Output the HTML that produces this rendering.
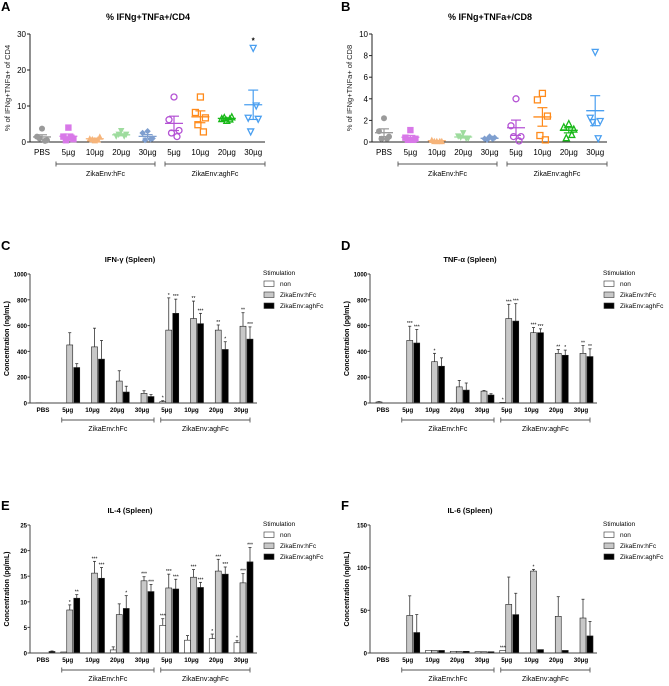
<!DOCTYPE html>
<html><head><meta charset="utf-8">
<style>
html,body{margin:0;padding:0;background:#fff;}
svg{display:block;font-family:"Liberation Sans",Arial,sans-serif;}
</style></head>
<body>
<svg id="fig" width="669" height="686" viewBox="0 0 669 686"></svg>
<script>
// ---- data ----
const cats = ["PBS","5µg","10µg","20µg","30µg","5µg","10µg","20µg","30µg"];
// Panel A: % IFNg+TNFa+/CD4 per mouse
const aPoints = [[3.7,1.5,0.5,1,0.3],[4,1.5,0.8,0.5,1.2],[0.5,1,1.5,0.8,0.7],[3,1.5,2,2,1.5],[3,2.5,1,0.5,0.8],[12.5,6.2,3.2,2.5,1.5],[12.5,8.2,6.7,4.8,2.8],[6,6.5,7,6.8,6.4],[26,6.6,6.3,2.8,10]];
const aTicks = [0,10,20,30];
// Panel B: % IFNg+TNFa+/CD8
const bPoints = [[2.2,1,0.5,0.3,0.3],[1.1,0.4,0.3,0.2,0.2],[0.1,0.2,0.1,0.1,0.1],[0.8,0.5,0.3,0.4,0.3],[0.5,0.3,0.4,0.2,0.3],[4,1.5,0.5,0.5,0.1],[4.5,3.9,2.4,0.6,0.2],[1.7,1.4,1.2,0.4,0.7],[8.3,2.2,1.9,1.8,0.3]];
const bTicks = [0,2,4,6,8,10];
// Panel C: IFN-g
const cNon = [2,0,0,0,0,10,0,0,0];
const cHfc = [0,450,435,170,75,565,655,565,595];
const cAgh = [0,275,340,85,50,695,615,415,495];
const cNonErr = [0,0,0,0,0,8,0,0,0];
const cHfcErr = [0,95,145,80,20,250,135,40,105];
const cAghErr = [0,30,145,45,15,110,80,60,95];
const cHfcStar = ["","","","","","*","**","**","**"];
const cAghStar = ["","","","","","***","***","*","***"];
const cTicks = [0,200,400,600,800,1000];
// Panel D: TNF-a
const dNon = [8,0,0,0,0,5,0,0,0];
const dHfc = [0,485,320,125,92,655,545,385,385];
const dAgh = [0,465,285,100,62,635,545,370,360];
const dNonErr = [3,0,0,0,0,0,0,0,0];
const dHfcErr = [0,110,65,50,5,110,40,30,60];
const dAghErr = [0,105,65,55,10,135,30,40,60];
const dHfcStar = ["","***","*","","","***","***","**","**"];
const dAghStar = ["","***","","","","***","***","*","**"];
const dTicks = [0,200,400,600,800,1000];
// Panel E: IL-4
const eNon = [0,0.2,0,0.6,0,5.4,2.5,2.8,2.0];
const eHfc = [0,8.4,15.6,7.5,14.1,12.7,14.8,16.0,13.7];
const eAgh = [0.3,10.7,14.6,8.7,12.0,12.5,12.8,15.4,17.8];
const eNonErr = [0,0,0,0.6,0,1.3,0.9,0.9,0.4];
const eHfcErr = [0,1,2.3,2.1,0.8,2.7,1.5,2.3,1.8];
const eAghErr = [0.1,0.7,2.1,2.5,1.4,1.9,1.0,1.4,2.8];
const eNonStar = ["","","","","","***","","*","*"];
const eHfcStar = ["","*","***","","***","***","***","***","***"];
const eAghStar = ["","**","***","*","***","***","***","***","***"];
const eTicks = [0,5,10,15,20,25];
// Panel F: IL-6
const fNon = [0,0,3,2,1.5,3,0,0,0];
const fHfc = [0,44,3,2,1.5,57,96,43,41];
const fAgh = [0,24,3,2,1.5,45,4,3,20];
const fNonErr = [0,0,0,0,0,0,0,0,0];
const fHfcErr = [0,23,0,0,0,32,2,23,22];
const fAghErr = [0,21,0,0,0,25,0,0,17];
const fHfcStar = ["","","","","","","*","",""];
const fTicks = [0,50,100,150];

const NS="http://www.w3.org/2000/svg";
const svg=document.getElementById('fig');
function mk(tag,attrs,parent){const e=document.createElementNS(NS,tag);for(const k in attrs)e.setAttribute(k,attrs[k]);(parent||svg).appendChild(e);return e;}
function txt(x,y,s,size,opts,parent){const e=mk('text',Object.assign({x:x,y:y,'font-size':size,fill:'#000'},opts||{}),parent);e.textContent=s;return e;}

function panelLabel(x,y,s){
  const t=txt(x,y,s,13,{'font-weight':'bold'});
  
  
}

// ---- scatter panels ----
const colors=["#9a9a9a","#d878e8","#f6b47a","#9edc9e","#7f9fcf","#b452d4","#ff8a1a","#17b817","#4a9ff0"];
const jitter=[0,-1,1,-0.5,0.6];
function marker(g,k,x,y,col){
  let e;const s=3.2;
  if(k===0){e=mk('circle',{cx:x,cy:y,r:3,fill:col},g);}
  else if(k===1){e=mk('rect',{x:x-s,y:y-s,width:2*s,height:2*s,fill:col},g);}
  else if(k===2){e=mk('polygon',{points:`${x},${y-s} ${x-s},${y+s} ${x+s},${y+s}`,fill:col},g);}
  else if(k===3){e=mk('polygon',{points:`${x},${y+s} ${x-s},${y-s} ${x+s},${y-s}`,fill:col},g);}
  else if(k===4){e=mk('polygon',{points:`${x},${y-s} ${x+s},${y} ${x},${y+s} ${x-s},${y}`,fill:col},g);}
  else if(k===5){e=mk('circle',{cx:x,cy:y,r:3,fill:'none',stroke:col,'stroke-width':1.3},g);}
  else if(k===6){e=mk('rect',{x:x-3,y:y-3,width:6,height:6,fill:'none',stroke:col,'stroke-width':1.3},g);}
  else if(k===7){e=mk('polygon',{points:`${x},${y-3} ${x-3},${y+3} ${x+3},${y+3}`,fill:'none',stroke:col,'stroke-width':1.3},g);}
  else {e=mk('polygon',{points:`${x},${y+3} ${x-3},${y-3} ${x+3},${y-3}`,fill:'none',stroke:col,'stroke-width':1.3},g);}
  
  
}
function scatterPanel(ox,pts,ticks,title,ylab,key,starIdx){
  const g=mk('g',{});
  
  
  const x0=ox+30,x1=ox+265,top=34,bot=142,ymax=ticks[ticks.length-1];
  const Y=v=>bot-(v/ymax)*(bot-top);
  const X=i=>ox+42+i*26.4;
  const tt=txt(ox+148,20,title,9,{'font-weight':'bold','text-anchor':'middle'},g);
  
  
  const yl=txt(0,0,ylab,7.5,{'text-anchor':'middle',transform:`translate(${ox+10},${(top+bot)/2}) rotate(-90)`,fill:'#222'},g);
  
  
  const ya=mk('line',{x1:x0,y1:top,x2:x0,y2:bot,stroke:'#222','stroke-width':1},g);
  
  
  const xa=mk('line',{x1:x0,y1:bot,x2:x1,y2:bot,stroke:'#222','stroke-width':1},g);
  
  
  ticks.forEach(t=>{
    mk('line',{x1:x0-3,y1:Y(t),x2:x0,y2:Y(t),stroke:'#222'},g);
    const l=txt(x0-4,Y(t)+3,String(t),8,{'text-anchor':'end'},g);
    
    
  });
  cats.forEach((c,i)=>{
    const l=txt(X(i),155,c,8,{'text-anchor':'middle'},g);
    
    
    const p=pts[i],n=p.length,m=p.reduce((a,b)=>a+b,0)/n;
    const sd=Math.sqrt(p.reduce((a,b)=>a+(b-m)*(b-m),0)/(n-1)),se=sd/Math.sqrt(n);
    const col=colors[i];
    p.forEach((v,j)=>marker(g,i,X(i)+jitter[j]*5,Y(v),col));
    const ml=mk('line',{x1:X(i)-9,y1:Y(m),x2:X(i)+9,y2:Y(m),stroke:col,'stroke-width':1.3},g);
    
    
    mk('line',{x1:X(i),y1:Y(m+se),x2:X(i),y2:Y(Math.max(0,m-se)),stroke:col,'stroke-width':1.2},g);
    mk('line',{x1:X(i)-5,y1:Y(m+se),x2:X(i)+5,y2:Y(m+se),stroke:col,'stroke-width':1.2},g);
    mk('line',{x1:X(i)-5,y1:Y(Math.max(0,m-se)),x2:X(i)+5,y2:Y(Math.max(0,m-se)),stroke:col,'stroke-width':1.2},g);
    if(i===starIdx){const s=txt(X(i),Y(Math.max(...p))-5,'*',8,{'text-anchor':'middle','font-weight':'bold'},g);
      
      }
  });
  groupBrackets(g,ox+56,ox+155,ox+165,ox+265,164,176,7);
}
function groupBrackets(g,a0,a1,b0,b1,y,ly,fs){
  [[a0,a1,'ZikaEnv:hFc','group-bracket-hfc'],[b0,b1,'ZikaEnv:aghFc','group-bracket-aghfc']].forEach(([s,e,lab,nm])=>{
    const br=mk('path',{d:`M${s},${y-2.5}V${y+2.5}M${s},${y}H${e}M${e},${y-2.5}V${y+2.5}`,stroke:'#555',fill:'none','stroke-width':0.9},g);
    
    
    const t=txt((s+e)/2,ly,lab,fs,{'text-anchor':'middle'},g);
    
    
  });
}

// ---- bar panels ----
function barPanel(ox,top,bot,key,title,ylab,ticks,non,hfc,agh,nonE,hfcE,aghE,nonS,hfcS,aghS){
  const g=mk('g',{});
  
  
  const x0=ox+30,x1=ox+257,ymax=ticks[ticks.length-1];
  const Y=v=>bot-(v/ymax)*(bot-top);
  const X=i=>ox+43+i*24.75;
  const tt=txt(ox+130,top-12,title,7.5,{'font-weight':'bold','text-anchor':'middle'},g);
  
  
  const yl=txt(0,0,ylab,7,{'text-anchor':'middle','font-weight':'bold',transform:`translate(${ox+9},${(top+bot)/2}) rotate(-90)`},g);
  
  
  ticks.forEach(t=>{
    mk('line',{x1:x0-2.5,y1:Y(t),x2:x0,y2:Y(t),stroke:'#444'},g);
    const l=txt(x0-3,Y(t)+2.5,String(t),6,{'text-anchor':'end','font-weight':'bold'},g);
    
    
  });
  const series=[[non,nonE,nonS,'#fff',-7,'bar-non'],[hfc,hfcE,hfcS,'#c8c8c8',-1,'bar-hfc'],[agh,aghE,aghS,'#000',6,'bar-aghfc']];
  cats.forEach((c,i)=>{
    const l=txt(X(i),bot+9,c,6.3,{'text-anchor':'middle','font-weight':'bold'},g);
    
    
    series.forEach(([vals,errs,stars,fill,off,nm])=>{
      const v=vals[i];if(v<=0)return;
      const bx=X(i)+off,w=6;
      if(errs[i]>0){
        mk('line',{x1:bx+w/2,y1:Y(v),x2:bx+w/2,y2:Y(v+errs[i]),stroke:'#333','stroke-width':0.8},g);
        mk('line',{x1:bx+w/2-1.5,y1:Y(v+errs[i]),x2:bx+w/2+1.5,y2:Y(v+errs[i]),stroke:'#333','stroke-width':0.8},g);
      }
      const r=mk('rect',{x:bx,y:Y(v),width:w,height:bot-Y(v),fill:fill,stroke:'#222','stroke-width':0.6},g);
      
      
      if(stars&&stars[i]){const s=txt(bx+w/2,Y(v+errs[i])-1,stars[i],5,{'text-anchor':'middle'},g);
        
        }
    });
  });
  const ya=mk('line',{x1:x0,y1:top,x2:x0,y2:bot,stroke:'#444','stroke-width':1},g);
  
  
  const xa=mk('line',{x1:x0,y1:bot,x2:x1,y2:bot,stroke:'#444','stroke-width':1},g);
  
  
  groupBrackets(g,X(1)-6,X(4)+12,X(5)-6,X(8)+9,bot+17,bot+28,7);
  // legend
  const lg=mk('g',{},g);
  
  
  txt(ox+263,top+1,'Stimulation',6.5,{},lg);
  [['non','#fff'],['ZikaEnv:hFc','#c8c8c8'],['ZikaEnv:aghFc','#000']].forEach(([lab,f],k)=>{
    const yy=top+7+k*11;
    const b=mk('rect',{x:ox+264,y:yy,width:10,height:5.5,fill:f,stroke:'#333','stroke-width':0.6},lg);
    
    
    const t=txt(ox+280,yy+5,lab,6.5,{},lg);
    
    
  });
}

panelLabel(1,11,'A');
panelLabel(341,11,'B');
panelLabel(1,250,'C');
panelLabel(341,250,'D');
panelLabel(1,510,'E');
panelLabel(341,510,'F');
scatterPanel(0,aPoints,aTicks,'% IFNg+TNFa+/CD4','% of IFNg+TNFa+ of CD4','a',8);
scatterPanel(342,bPoints,bTicks,'% IFNg+TNFa+/CD8','% of IFNg+TNFa+ of CD8','b',-1);
barPanel(0,274,403,'c','IFN-γ (Spleen)','Concentration (ng/mL)',cTicks,cNon,cHfc,cAgh,cNonErr,cHfcErr,cAghErr,["","","","","","*","","",""],cHfcStar,cAghStar);
barPanel(340,274,403,'d','TNF-α (Spleen)','Concentration (pg/mL)',dTicks,dNon,dHfc,dAgh,dNonErr,dHfcErr,dAghErr,["","","","","","*","","",""],dHfcStar,dAghStar);
barPanel(0,525,653,'e','IL-4 (Spleen)','Concentration (pg/mL)',eTicks,eNon,eHfc,eAgh,eNonErr,eHfcErr,eAghErr,eNonStar,eHfcStar,eAghStar);
barPanel(340,525,653,'f','IL-6 (Spleen)','Concentration (ng/mL)',fTicks,fNon,fHfc,fAgh,fNonErr,fHfcErr,fAghErr,["","","","","","***","","",""],fHfcStar,null);
</script>
</body></html>
